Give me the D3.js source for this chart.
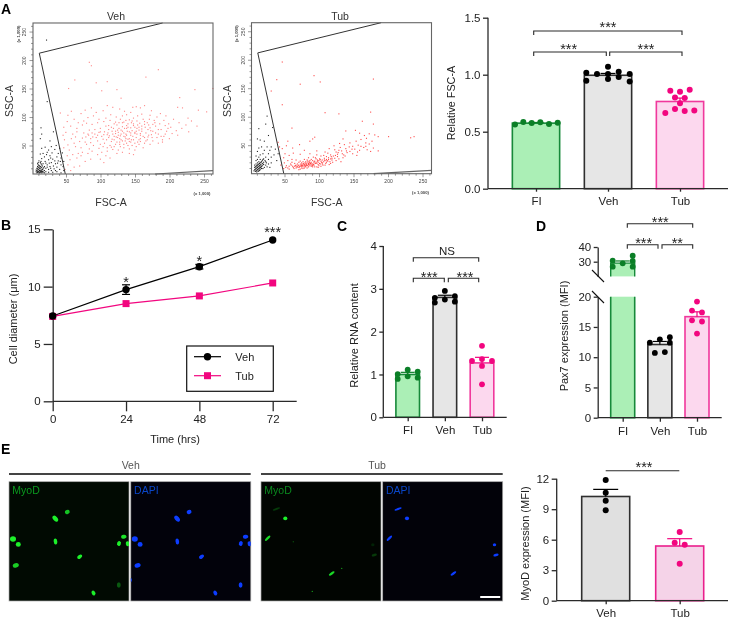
<!DOCTYPE html>
<html><head><meta charset="utf-8">
<script src="https://cdn.jsdelivr.net/npm/d3@7"></script>
<style>
html,body{margin:0;padding:0;background:#fff}
svg{display:block;filter:blur(.25px)}
text{font-family:"Liberation Sans",Arial,sans-serif;fill:#222}
</style></head><body>
<script>
// ---------- DATA ----------
const groups3 = ["FI","Veh","Tub"];
const groups2 = ["Veh","Tub"];

// A: flow cytometry events [FSC-A, SSC-A] (x 1,000)
const vehGated = [[83,197],[86,191],[62,166],[183,184],[93,161],[109,163],[165,171],[53,151],[101,147],[123,149],[214,135],[262,151],[236,149],[129,134],[163,121],[151,119],[146,118],[109,121],[86,117],[57,111],[41,108],[52,104],[71,107],[77,113],[93,109],[103,112],[117,118],[127,115],[134,111],[143,109],[157,117],[173,112],[186,107],[194,103],[211,118],[218,117],[226,99],[241,113],[253,110],[231,94],[223,87],[213,91],[205,97],[198,89],[191,95],[181,101],[171,104],[159,106],[153,103],[147,99],[137,105],[131,103],[122,101],[114,105],[107,99],[97,97],[89,103],[81,100],[75,94],[67,91],[61,97],[51,93],[46,83],[56,85],[65,81],[73,87],[79,90],[87,88],[95,91],[104,93],[113,95],[121,92],[128,97],[136,95],[144,91],[152,94],[161,97],[167,91],[177,95],[185,89],[193,86],[201,83],[209,77],[217,81],[227,75],[239,85],[211,69],[203,72],[195,76],[187,79],[179,85],[169,87],[163,88],[155,83],[147,86],[139,89],[131,84],[123,87],[115,83],[107,85],[99,81],[91,79],[83,78],[75,73],[65,75],[59,71],[49,74],[45,69],[47,61],[57,63],[63,66],[73,64],[81,71],[87,73],[97,74],[105,75],[111,79],[121,76],[129,78],[137,81],[145,77],[151,76],[159,80],[168,79],[175,76],[183,71],[191,67],[199,63],[189,61],[181,65],[173,70],[165,73],[157,69],[149,72],[141,75],[133,73],[125,69],[117,71],[109,70],[101,67],[93,65],[85,63],[77,57],[69,58],[61,55],[52,52],[46,47],[54,43],[63,49],[71,47],[79,53],[85,56],[95,59],[103,62],[111,65],[119,67],[127,63],[135,66],[143,69],[151,65],[157,63],[167,61],[175,59],[183,55],[189,57],[171,53],[163,55],[153,57],[147,61],[139,62],[131,59],[123,57],[115,58],[105,55],[99,53],[89,51],[83,45],[73,39],[67,37],[59,35],[51,33],[55,26],[65,29],[71,33],[81,37],[87,41],[97,46],[103,49],[113,51],[119,49],[127,53],[137,55],[145,51],[151,49],[161,47],[149,43],[141,45],[133,47],[125,43],[117,44],[109,41],[101,39],[95,35],[107,33],[113,29],[99,27],[104,21],[85,27],[77,23],[69,15],[61,13],[52,17],[48,9],[56,7],[123,37],[131,39],[141,37],[147,35],[128,49],[136,71],[141,63],[133,67],[125,74],[118,81],[144,61],[149,74],[155,78],[124,65],[116,62],[110,73],[131,91],[139,83],[149,83],[157,72],[164,83],[172,77],[121,72],[129,61],[135,59],[137,69],[143,73],[146,67],[152,71],[155,61],[159,76],[161,67],[165,59],[169,69],[171,82],[175,88],[179,73],[183,79],[187,67],[193,71],[197,81],[152,81],[147,89],[143,82],[138,76],[134,81],[129,71],[126,81],[122,66],[119,61],[116,76],[112,68],[108,61],[104,70],[99,75],[95,69],[91,71],[88,66],[82,69],[78,66],[111,86],[119,89],[126,91],[133,92],[141,96],[156,90],[163,93],[170,97],[178,91],[127,57],[133,53],[139,51],[143,57],[149,55],[155,53],[121,53],[115,48],[109,47],[157,58],[163,65],[168,66],[174,65],[136,63],[141,58],[128,68],[131,76],[124,78],[137,86],[145,94],[153,87],[159,85]];
const vehDebris = [[21,236],[13,82],[14,71],[31,75],[12,63],[22,128],[26,59],[35,51],[28,49],[19,48],[40,46],[14,46],[24,43],[33,44],[44,38],[38,37],[29,38],[22,39],[16,37],[12,36],[26,33],[36,31],[42,29],[18,31],[30,27],[46,23],[38,24],[24,26],[14,28],[19,23],[10,24],[28,21],[34,19],[42,17],[12,21],[16,19],[22,17],[8,19],[31,15],[36,13],[26,14],[10,16],[14,17],[18,14],[8,14],[12,14],[10,12],[14,12],[20,11],[24,9],[32,10],[40,9],[46,7],[8,10],[12,10],[16,10],[6,8],[10,8],[14,8],[18,7],[28,7],[36,5],[8,6],[12,6],[16,6],[20,5],[24,4],[6,5],[10,5],[14,5],[30,4],[42,3],[8,4],[12,4],[16,4],[18,3],[7,3],[10,3],[14,3],[9,9],[11,11],[13,7],[15,9],[9,13],[11,15],[13,13],[15,15],[9,17],[13,19],[11,7],[9,5],[11,3],[13,5],[15,5],[7,7],[7,11],[9,21],[13,23],[17,12],[20,20],[25,20],[27,29],[21,35],[33,24],[37,20],[41,23],[45,14],[22,13],[27,11],[34,7]];
const tubGated = [[46,197],[92,173],[38,166],[101,162],[72,158],[178,167],[30,146],[46,122],[128,106],[108,108],[174,109],[162,93],[178,88],[60,81],[40,56],[42,48],[46,45],[54,58],[52,50],[61,46],[71,52],[90,62],[93,65],[86,58],[78,42],[62,37],[50,36],[56,33],[48,29],[72,35],[86,36],[96,41],[134,62],[138,76],[152,77],[158,72],[165,68],[168,63],[172,71],[180,69],[185,66],[200,66],[232,64],[237,66],[185,41],[176,58],[167,55],[160,61],[153,58],[144,55],[136,52],[129,54],[121,50],[148,49],[156,51],[164,47],[172,53],[178,46],[169,43],[158,42],[147,44],[138,45],[130,47],[122,43],[114,45],[108,39],[140,38],[133,36],[124,39],[116,34],[126,31],[134,29],[148,36],[154,33],[112,37],[106,33],[118,28],[110,31],[102,32],[96,34],[91,30],[84,29],[78,26],[72,23],[66,25],[60,26],[54,24],[49,20],[44,16],[52,15],[58,18],[64,19],[70,21],[76,22],[82,25],[88,26],[94,29],[100,27],[107,28],[113,26],[118,25],[124,24],[131,22],[108,24],[102,23],[97,25],[90,24],[85,22],[79,20],[73,18],[66,16],[61,14],[54,11],[48,10],[56,9],[62,12],[68,13],[74,16],[80,18],[86,20],[92,22],[98,21],[104,20],[110,21],[116,19],[96,19],[90,18],[84,17],[78,15],[72,14],[66,11],[74,11],[80,13],[86,15],[92,16],[98,17],[104,18],[84,13],[78,11],[72,9],[90,13],[96,13],[102,14],[108,16],[114,17],[88,21],[82,20],[76,18],[70,16],[94,19],[100,19],[106,22],[112,23],[95,27],[88,18],[82,16],[76,13],[70,12],[64,14],[68,18],[74,20],[80,22],[86,17],[92,20],[99,15],[104,25],[110,26],[116,27],[122,28],[128,27],[120,32],[126,35],[132,41],[86,24],[90,15],[84,19],[78,17],[80,15],[74,14],[76,16],[88,14],[83,15],[87,19],[91,17],[93,23],[97,23],[101,18],[103,21],[105,16],[109,19],[111,24],[115,22],[119,21],[81,18],[79,14],[77,19],[75,15],[73,16],[71,13],[69,15],[67,13],[65,15],[89,16],[85,20],[83,23],[81,16],[95,21],[99,24],[101,26],[107,25],[113,29],[117,31],[123,33],[127,38],[135,34],[139,41],[143,48],[151,44],[155,39],[160,49],[167,49],[174,40],[144,40],[128,42],[137,32],[63,10],[59,16],[70,8],[76,10],[82,11],[60,21],[56,14],[51,12],[93,13],[98,12]];
const tubDebris = [[24,102],[12,80],[22,88],[32,82],[26,68],[10,62],[14,60],[20,58],[30,48],[24,48],[16,48],[12,46],[36,44],[28,42],[20,42],[10,40],[40,36],[34,34],[26,36],[18,36],[14,34],[8,32],[30,30],[22,30],[12,30],[38,24],[26,26],[18,26],[14,26],[10,26],[8,24],[22,22],[16,22],[12,22],[30,20],[26,18],[10,20],[14,20],[8,18],[12,18],[18,18],[22,16],[6,16],[10,16],[14,16],[8,14],[12,14],[16,14],[20,12],[6,12],[10,12],[14,12],[28,12],[8,10],[12,10],[16,10],[6,8],[10,8],[14,8],[8,6],[12,6],[5,6],[9,4],[7,5],[9,7],[11,9],[13,11],[15,13],[17,15],[19,17],[11,5],[13,7],[7,9],[9,11],[11,13],[13,15],[15,17],[17,19],[19,21],[21,24],[15,11],[7,13],[9,15],[11,17],[13,19],[15,21],[17,24],[19,27],[23,20],[24,13],[18,10]];
const flowMajor = [50,100,150,200,250];
const flowMinor = [10,20,30,40,60,70,80,90,110,120,130,140,160,170,180,190,210,220,230,240,260];
// gate outline [FSC-A, SSC-A]
const gateUpper = [[190,265],[11.3,212],[49,0]];
const gateLower = [[179,0],[263,5.8]];

// A: relative FSC-A
const aMeans = [0.575,0.995,0.765];
const aSems  = [0.006,0.016,0.03];
const aDots  = [[0.564,0.585,0.576,0.582,0.567,0.579],
                [1.018,1.006,1.07,1.026,1.006,0.947,1.006,0.962,0.98,0.94],
                [0.86,0.851,0.868,0.801,0.795,0.749,0.699,0.681,0.687,0.664]];
const aTicks = [0,0.5,1,1.5];

// B: cell diameter
const hours = [0,24,48,72];
const vehDiam = [7.44,9.74,11.74,14.07];
const vehDiamErr = [0.1,0.42,0.2,0.1];
const tubDiam = [7.4,8.52,9.19,10.32];
const tubDiamErr = [0.05,0.1,0.1,0.1];
const bTicks = [0,5,10,15];
const bStars = ["","*","*","***"];

// C: relative RNA content
const cMeans = [1.0,2.8,1.27];
const cSems  = [0.05,0.05,0.13];
const cDots  = [[1.01,0.895,1.11,0.957,1.066,0.926],
                [2.79,2.68,2.95,2.75,2.83,2.70],
                [1.67,1.315,1.36,1.315,1.2,0.77]];
const cTicks = [0,1,2,3,4];

// D: Pax7 expression
const dMeans = [29,12.1,16.7];
const dSems  = [1.5,0.5,0.8];
const dDots  = [[30.7,26.6,28.9,34.1,30.5,26.6],
                [12.4,12.95,13.3,12.4,10.7,10.85],
                [19.2,17.7,17.4,16.1,15.9,13.9]];
const dTicksLow = [0,5,10,15,20];
const dTicksHigh = [30,40];

// E: MyoD expression
const eMeans = [10.25,5.38];
const eSems  = [0.7,0.72];
const eDots  = [[11.87,10.62,9.84,8.89],[6.75,5.7,5.5,3.64]];
const eTicks = [0,3,6,9,12];

const vehNuclei = [[58.3,30.3,5,4,-20,.8,1],[46.3,37,7,4.4,50,1,1],[4,57.3,6,5.4,0,1,1],[9.3,62.7,5,4.6,0,1,1],[46.5,59.7,6,3.6,85,1,1],[114.8,55,5.4,4,-10,.95,1],[110,61.8,5,3.8,-70,1,1],[118.7,62,5,3.8,80,1,1],[70.7,75,5.6,3.6,-35,1,1],[6.8,83.7,6.2,4.4,-15,.85,1],[109.8,103.3,5.4,3.8,90,.35,1],[84.5,111.3,5,3.6,60,1,1],[-0.3,98.3,4,3,90,0,.9]];
const tubNuclei = [[15.4,27.3,7.6,2,-20,.22,1],[24.3,36.7,4.2,3.6,0,1,1],[6.7,56.5,7,2.4,-45,.9,1],[70.7,91.7,6.6,2.4,-35,.9,1],[111.8,63,3.4,3,0,.12,1],[113.3,73.3,5.4,2.8,-15,.22,1],[80.7,86.7,1.4,1.4,0,.6,0],[51.3,109.7,1.4,1.4,0,.6,0],[32.3,60,1.4,1.4,0,.3,0]];

// ---------- DRAWING ----------
const INK = "#2a2a2a";
const green = {fill:"#abefb6",stroke:"#17893a",dot:"#0b7f27"};
const gray  = {fill:"#e6e6e6",stroke:"#2f2f2f",dot:"#000"};
const pink  = {fill:"#fcd8ee",stroke:"#f0389c",dot:"#f2067f"};

const svg = d3.select("body").append("svg").attr("width",729).attr("height",622);
svg.append("rect").attr("width",729).attr("height",622).attr("fill","#fff");
const defs = svg.append("defs");
defs.append("filter").attr("id","soft").attr("x","-5%").attr("y","-5%").attr("width","110%").attr("height","110%")
  .append("feGaussianBlur").attr("stdDeviation",.45);

function txt(x,y,s,size,o={}){
  const t = svg.append("text").attr("x",x).attr("y",y).attr("font-size",size)
    .attr("text-anchor",o.anchor||"middle").attr("dominant-baseline",o.base||"central").text(s);
  if(o.rot!==undefined) t.attr("transform",`rotate(${o.rot} ${x} ${y})`);
  if(o.weight) t.attr("font-weight",o.weight);
  if(o.fill) t.style("fill",o.fill);
  return t;
}
function style(g,w=1.3,size=11.5){
  g.selectAll("path,line").attr("stroke",INK).attr("stroke-width",w);
  g.selectAll("text").attr("font-size",size).style("fill","#222")
   .attr("font-family",'"Liberation Sans",Arial,sans-serif');
}
function line(x1,y1,x2,y2,c=INK,w=1.3){
  return svg.append("line").attr("x1",x1).attr("y1",y1).attr("x2",x2).attr("y2",y2)
    .attr("stroke",c).attr("stroke-width",w);
}
function stars(x,cy,s,size=14.5){
  return txt(x,cy+.58*size,s,size).attr("dominant-baseline","auto");
}
function bracket(x1,x2,y,leg=4){
  svg.append("path").attr("d",d3.line()([[x1,y+leg],[x1,y],[x2,y],[x2,y+leg]]))
    .attr("fill","none").attr("stroke",INK).attr("stroke-width",1.1);
}

// flow plots -------------------------------------------------------
function flow(dx,dy,title,titleX,labelX,ssclabX,gated,debris,gatedOp){
  const x = d3.scaleLinear().domain([2.2,263]).range([33+dx,213+dx]);
  const y = d3.scaleLinear().domain([0,265]).range([174+dy,23+dy]);
  const g = svg.append("g").attr("filter","url(#soft)");
  g.selectAll(null).data(gated).join("rect")
    .attr("x",d=>x(d[0])).attr("y",d=>y(d[1])).attr("width",1.1).attr("height",1.1)
    .attr("fill","#f11").attr("opacity",gatedOp);
  g.selectAll(null).data(debris).join("rect")
    .attr("x",d=>x(d[0])).attr("y",d=>y(d[1])).attr("width",1.1).attr("height",1.1)
    .attr("fill","#000").attr("opacity",.85);
  const l = d3.line().x(d=>x(d[0])).y(d=>y(d[1]));
  g.append("path").attr("d",l(gateUpper)).attr("fill","none").attr("stroke","#333").attr("stroke-width",1);
  g.append("path").attr("d",l(gateLower)).attr("fill","none").attr("stroke","#666").attr("stroke-width",1.2);
  g.append("rect").attr("x",33+dx).attr("y",23+dy).attr("width",180).attr("height",151)
    .attr("fill","none").attr("stroke","#666").attr("stroke-width",1.1);
  const ax = svg.append("g").attr("transform",`translate(0,${174+dy})`)
    .call(d3.axisBottom(x).tickValues(flowMajor).tickSize(3.5).tickPadding(2).tickSizeOuter(0));
  const axm = svg.append("g").attr("transform",`translate(0,${174+dy})`)
    .call(d3.axisBottom(x).tickValues(flowMinor).tickSize(2).tickFormat(""));
  const ay = svg.append("g").attr("transform",`translate(${33+dx},0)`)
    .call(d3.axisLeft(y).tickValues(flowMajor).tickSize(3.5).tickPadding(1.5));
  const aym = svg.append("g").attr("transform",`translate(${33+dx},0)`)
    .call(d3.axisLeft(y).tickValues(flowMinor).tickSize(2).tickFormat(""));
  [ax,axm,ay,aym].forEach(a=>{a.select(".domain").remove();style(a,.6,5);
    a.selectAll("line").attr("stroke","#555");a.selectAll("text").style("fill","#444");});
  ay.selectAll("text").attr("text-anchor","middle").attr("transform","rotate(-90)").attr("x",0).attr("y",-7).attr("dy","0");
  txt(202+dx,193+dy,"(x 1,000)",4.2,{fill:"#444",weight:"bold"});
  txt(18.5+dx,34+dy,"(x 1,000)",4.2,{rot:-90,fill:"#444",weight:"bold"});
  txt(titleX,16,title,10.5,{fill:"#333"});
  txt(labelX,201.5,"FSC-A",10.5,{fill:"#333"});
  txt(ssclabX,101,"SSC-A",10.5,{rot:-90,fill:"#333"});
}
flow(0,0,"Veh",116,111,9,vehGated,vehDebris,.5);
flow(218.5,-.3,"Tub",340,326.7,226.5,tubGated,tubDebris,.75);

// bar panels -------------------------------------------------------
function barPanel(c){
  const x = d3.scalePoint().domain(c.cats).range(c.xRange);
  const y = d3.scaleLinear().domain([0,c.yMax]).range([c.y0,c.yTop]);
  c.cats.forEach((cat,i)=>{
    const cx = x(cat), st = c.styles[i], w = c.barW;
    svg.append("rect").attr("x",cx-w/2).attr("y",y(c.means[i])).attr("width",w).attr("height",c.y0-y(c.means[i]))
      .attr("fill",st.fill).attr("stroke",st.stroke).attr("stroke-width",c.barStroke||1.6);
    const top = y(c.means[i]+c.sems[i]);
    line(cx,y(c.means[i]),cx,top,st.dot,1.2);
    line(cx-c.capW/2,top,cx+c.capW/2,top,st.dot,1.2);
    svg.selectAll(null).data(c.dots[i].map((v,k)=>[v,c.offsets[i][k]])).join("circle")
      .attr("cx",d=>cx+d[1]).attr("cy",d=>y(d[0])).attr("r",c.r).attr("fill",st.dot);
  });
  const ay = svg.append("g").attr("transform",`translate(${c.xAxis},0)`)
    .call(d3.axisLeft(y).tickValues(c.ticks).tickFormat(c.fmt||d3.format("d")).tickSize(c.tickY||5).tickPadding(c.padY||2.5).tickSizeOuter(0));
  ay.select(".domain").attr("d",`M0,${c.y0}V${c.yTop}`);
  style(ay,1.3,c.font||11.5);
  const ax = svg.append("g").attr("transform",`translate(0,${c.y0})`)
    .call(d3.axisBottom(x).tickSize(c.tickX||4).tickPadding(c.padX||4).tickSizeOuter(0));
  ax.select(".domain").attr("d",`M${c.xAxis},0H${c.xEnd}`);
  style(ax,1.3,c.font||11.5);
  return {x,y};
}

// panel A bars
barPanel({cats:groups3,xRange:[536,680],y0:188.7,yTop:17.7,yMax:1.5,xAxis:488,xEnd:728,
  means:aMeans,sems:aSems,dots:aDots,styles:[green,gray,pink],barW:47.3,capW:15,r:3,
  ticks:aTicks,fmt:d3.format(".1f"),tickX:3,padX:5,
  offsets:[[-21,-12.7,-4.3,4.3,13,21.7],[-21.7,-11,0,10.7,21.7,-21.7,0,0,10.7,21.7],[-9.7,0,9.7,-5,4.7,0,-5,4.7,14.3,-14.7]]});
txt(451,103,"Relative FSC-A",10.8,{rot:-90});
bracket(533.7,682,31); bracket(533.7,606.3,52); bracket(609.7,682,52);
stars(608,23.7,"***"); stars(568.7,45.3,"***"); stars(646,45.3,"***");

// panel B
(function(){
  const x = d3.scaleLinear().domain([0,72]).range([52.7,272.7]);
  const y = d3.scaleLinear().domain([0,15]).range([401.3,229.3]);
  const ay = svg.append("g").attr("transform","translate(52.7,0)")
    .call(d3.axisLeft(y).tickValues(bTicks).tickSize(9).tickPadding(3).tickSizeOuter(0));
  style(ay,1.3,11.5);
  const ax = svg.append("g").attr("transform","translate(0,401.3)")
    .call(d3.axisBottom(x).tickValues(hours).tickSize(10).tickPadding(4).tickSizeOuter(0));
  ax.select(".domain").attr("d","M52.7,0H296.7");
  style(ax,1.3,11.5);
  const l = d3.line().x((d,i)=>x(hours[i])).y(d=>y(d));
  svg.append("path").attr("d",l(vehDiam)).attr("fill","none").attr("stroke","#000").attr("stroke-width",1.2);
  svg.append("path").attr("d",l(tubDiam)).attr("fill","none").attr("stroke",pink.dot).attr("stroke-width",1.2);
  hours.forEach((h,i)=>{
    const cap = 4, xx = x(h);
    if(vehDiamErr[i]>0.15){
      line(xx,y(vehDiam[i]-vehDiamErr[i]),xx,y(vehDiam[i]+vehDiamErr[i]),"#000",1.2);
      line(xx-cap,y(vehDiam[i]-vehDiamErr[i]),xx+cap,y(vehDiam[i]-vehDiamErr[i]),"#000",1.2);
      line(xx-cap,y(vehDiam[i]+vehDiamErr[i]),xx+cap,y(vehDiam[i]+vehDiamErr[i]),"#000",1.2);
    }
  });
  svg.selectAll(null).data(tubDiam).join("rect")
    .attr("x",(d,i)=>x(hours[i])-3.5).attr("y",d=>y(d)-3.5).attr("width",7).attr("height",7).attr("fill",pink.dot);
  svg.selectAll(null).data(vehDiam).join("circle")
    .attr("cx",(d,i)=>x(hours[i])).attr("cy",d=>y(d)).attr("r",3.7).attr("fill","#000");
  stars(x(24),279,bStars[1]); stars(x(48),257.3,bStars[2]); stars(x(72),229,bStars[3]);
  txt(12.7,319,"Cell diameter (μm)",11,{rot:-90});
  txt(175,438.7,"Time (hrs)",11);
  svg.append("rect").attr("x",186.7).attr("y",346).attr("width",86.6).attr("height",45.3)
    .attr("fill","#fff").attr("stroke","#111").attr("stroke-width",1.2);
  line(194,356.7,221,356.7,"#000",1.2);
  line(194,375.7,221,375.7,pink.dot,1.2);
  svg.append("circle").attr("cx",207.5).attr("cy",356.7).attr("r",3.7).attr("fill","#000");
  svg.append("rect").attr("x",204).attr("y",372.2).attr("width",7).attr("height",7).attr("fill",pink.dot);
  txt(235.3,357,groups2[0],11,{anchor:"start"});
  txt(235.3,376,groups2[1],11,{anchor:"start"});
})();

// panel C
barPanel({cats:groups3,xRange:[407.7,482],y0:417.3,yTop:246,yMax:4,xAxis:383.3,xEnd:506.7,
  means:cMeans,sems:cSems,dots:cDots,styles:[green,gray,pink],barW:23.6,capW:14,r:2.9,
  ticks:cTicks,tickX:4,padX:5,tickY:4,
  offsets:[[-10,-10,0,0,10,10],[-10,-10,0,0,10,10],[0,-10,0,10,0,0]]});
txt(354.3,335.5,"Relative RNA content",11,{rot:-90});
bracket(413.3,478.7,257.7); bracket(413.3,444.3,278.3); bracket(448.3,478.7,278.3);
txt(447,251,"NS",11.5); stars(429.3,273.3,"***"); stars(465,273.3,"***");

// panel D (broken axis)
(function(){
  const x = d3.scalePoint().domain(groups3).range([622.7,697]);
  const yLow = d3.scaleLinear().domain([0,20]).range([417.7,296.7]);
  const yHigh = d3.scaleLinear().domain([20,40]).range([276.4,247]);
  const styles = [green,gray,pink], w = 24;
  const fx = x(groups3[0]);
  svg.append("rect").attr("x",fx-w/2).attr("y",yLow(20)).attr("width",w).attr("height",yLow(0)-yLow(20)).attr("fill",green.fill);
  svg.append("path").attr("d",d3.line()([[fx-w/2,yLow(20)],[fx-w/2,yLow(0)],[fx+w/2,yLow(0)],[fx+w/2,yLow(20)]]))
    .attr("fill","none").attr("stroke",green.stroke).attr("stroke-width",1.6);
  svg.append("rect").attr("x",fx-w/2).attr("y",yHigh(dMeans[0])).attr("width",w).attr("height",yHigh(20)-yHigh(dMeans[0])).attr("fill",green.fill);
  svg.append("path").attr("d",d3.line()([[fx-w/2,yHigh(20)],[fx-w/2,yHigh(dMeans[0])],[fx+w/2,yHigh(dMeans[0])],[fx+w/2,yHigh(20)]]))
    .attr("fill","none").attr("stroke",green.stroke).attr("stroke-width",1.4);
  [1,2].forEach(i=>{
    const cx=x(groups3[i]);
    svg.append("rect").attr("x",cx-w/2).attr("y",yLow(dMeans[i])).attr("width",w).attr("height",yLow(0)-yLow(dMeans[i]))
      .attr("fill",styles[i].fill).attr("stroke",styles[i].stroke).attr("stroke-width",1.6);
  });
  const off = [[-10,-10,0,10,10,10],[-10,0,10,10,-5,5],[0,-5,5,-5,5,0]];
  groups3.forEach((g,i)=>{
    const cx=x(g), y = i===0?yHigh:yLow, st=styles[i];
    const top=y(dMeans[i]+dSems[i]);
    line(cx,y(dMeans[i]),cx,top,st.dot,1.2);
    line(cx-7,top,cx+7,top,st.dot,1.2);
    svg.selectAll(null).data(dDots[i].map((v,k)=>[v,off[i][k]])).join("circle")
      .attr("cx",d=>cx+d[1]).attr("cy",d=>y(d[0])).attr("r",2.9).attr("fill",st.dot);
  });
  const a1 = svg.append("g").attr("transform","translate(597.7,0)")
    .call(d3.axisLeft(yLow).tickValues(dTicksLow).tickSize(4).tickPadding(2.5).tickSizeOuter(0));
  const a2 = svg.append("g").attr("transform","translate(597.7,0)")
    .call(d3.axisLeft(yHigh).tickValues(dTicksHigh).tickSize(4).tickPadding(2.5).tickSizeOuter(0));
  style(a1,1.3,11.5); style(a2,1.3,11.5);
  line(592,270,604,282,"#111",1.1); line(592,291,604,303,"#111",1.1);
  const ax = svg.append("g").attr("transform","translate(0,417.7)")
    .call(d3.axisBottom(x).tickSize(4).tickPadding(5).tickSizeOuter(0));
  ax.select(".domain").attr("d","M597.7,0H721.7");
  style(ax,1.3,11.5);
  txt(564.3,336,"Pax7 expression (MFI)",11,{rot:-90});
  bracket(627.3,692.7,223.7); bracket(627.3,658,244.7); bracket(662,692.7,244.7);
  stars(660.3,219,"***"); stars(643.7,239.3,"***"); stars(677.3,239.3,"**");
})();

// panel E bars
barPanel({cats:groups2,xRange:[605.7,679.7],y0:600.7,yTop:478.7,yMax:12,xAxis:556.7,xEnd:728,
  means:eMeans,sems:eSems,dots:eDots,styles:[{fill:"#e0e0e0",stroke:"#2f2f2f",dot:"#000"},{fill:"#f5d3e8",stroke:"#ea1f8c",dot:pink.dot}],
  barW:48,capW:25,r:3,ticks:eTicks,tickX:3.5,padX:5,
  offsets:[[0,0,0,0],[0,-5,5,0]]});
txt(525.3,543.5,"MyoD expression (MFI)",11,{rot:-90});
line(605.7,470.7,679.3,470.7,INK,1.1);
stars(644,463.3,"***");

// panel E micrographs
function micro(x0,nuclei,channel,color,bg,label,labelColor,scale){
  const W=120, top=481.7, H=119.3;
  svg.append("rect").attr("x",x0).attr("y",top).attr("width",W).attr("height",H)
    .attr("fill",bg).attr("stroke","#aaa").attr("stroke-width",.7);
  const x = d3.scaleLinear().domain([0,120]).range([x0,x0+W]);
  const y = d3.scaleLinear().domain([0,119.3]).range([top,top+H]);
  const clip = "c"+Math.round(x0);
  svg.append("clipPath").attr("id",clip).append("rect").attr("x",x0).attr("y",top).attr("width",W).attr("height",H);
  svg.append("g").attr("clip-path",`url(#${clip})`).append("g").attr("filter","url(#soft)").selectAll("ellipse")
    .data(nuclei.filter(d=>d[channel]>0)).join("ellipse")
    .attr("transform",d=>`translate(${x(d[0])},${y(d[1])}) rotate(${d[4]})`)
    .attr("rx",d=>d[2]/2).attr("ry",d=>d[3]/2).attr("fill",color).attr("opacity",d=>d[channel]);
  txt(x0+3.3,489.5,label,10.5,{anchor:"start",fill:labelColor});
  if(scale) line(x0+97.5,597,x0+117.5,597,"#fff",2);
}
micro(9,vehNuclei,5,"#1cf02a","#010a02","MyoD","#0a9a1e");
micro(130.8,vehNuclei,6,"#0a3cff","#02020b","DAPI","#0a46c8");
micro(261,tubNuclei,5,"#1cf02a","#010501","MyoD","#0a8a1e");
micro(382.7,tubNuclei,6,"#0a3cff","#020209","DAPI","#0a46c8",true);
line(9,474,250.7,474,"#444",2);
line(261,474,502.7,474,"#444",2);
txt(130.7,465,"Veh",10.5,{fill:"#555"});
txt(377,465,"Tub",10.5,{fill:"#555"});

// letters
[["A",1,9],["B",1,225],["C",337,225.5],["D",536,225.5],["E",1,449]].forEach(d=>
  txt(d[1],d[2],d[0],14,{anchor:"start",weight:"bold",fill:"#000"}));
</script>
</body></html>
